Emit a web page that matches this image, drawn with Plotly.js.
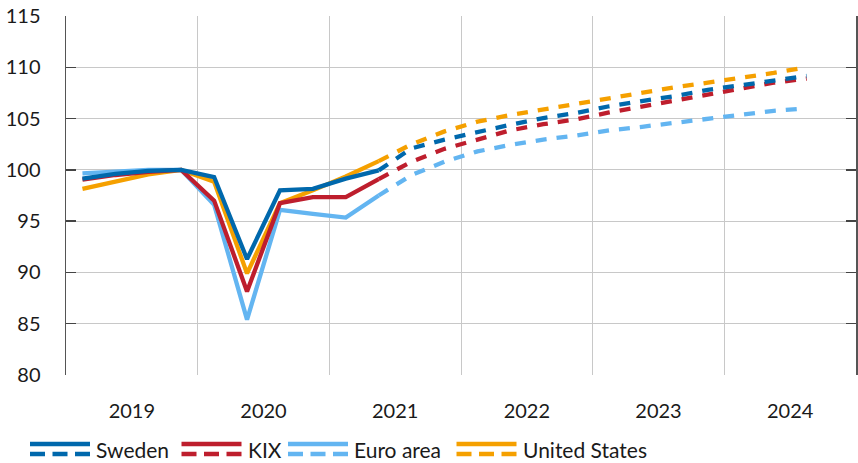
<!DOCTYPE html>
<html>
<head>
<meta charset="utf-8">
<script src="https://cdn.plot.ly/plotly-3.0.1.min.js"></script>
<style>html,body{margin:0;padding:0;background:#fff}#chart{width:858px;height:463px}</style>
</head>
<body>
<div id="chart"></div>
<script>
// Quarter labels
const outcomeQuarters = ['2019Q1','2019Q2','2019Q3','2019Q4','2020Q1','2020Q2','2020Q3','2020Q4','2021Q1','2021Q2'];
const forecastQuarters = ['2021Q2','2021Q3','2021Q4','2022Q1','2022Q2','2022Q3','2022Q4','2023Q1','2023Q2','2023Q3','2023Q4','2024Q1','2024Q2','2024Q3'];

// Series values (index, 2019Q4 = 100)
const swedenOutcome = [99.15, 99.6, 99.9, 100.0, 99.3, 91.3, 98.0, 98.15, 99.15, 99.95];
const swedenForecast = [99.95, 102.1, 102.95, 103.7, 104.4, 105.05, 105.55, 106.2, 106.65, 107.2, 107.8, 108.25, 108.65, 109.15];
const kixOutcome = [99.05, 99.5, 99.8, 100.0, 97.0, 88.15, 96.75, 97.35, 97.35, 99.1];
const kixForecast = [99.1, 100.8, 102.05, 102.9, 103.85, 104.45, 104.93, 105.6, 106.2, 106.75, 107.4, 107.9, 108.5, 108.9];
const euroOutcome = [99.65, 99.8, 100.0, 100.0, 96.6, 85.4, 96.1, 95.7, 95.35, 97.5];
const euroForecast = [97.5, 99.5, 100.8, 101.8, 102.43, 102.95, 103.35, 103.85, 104.2, 104.6, 105.0, 105.3, 105.75, 106.0];
const usOutcome = [98.15, 98.9, 99.55, 100.0, 98.85, 89.9, 96.75, 98.0, 99.35, 100.85];
const usForecast = [100.85, 102.5, 103.75, 104.7, 105.35, 105.9, 106.45, 107.0, 107.6, 108.05, 108.5, 108.95, 109.45, 110.0];

// Axis labels
const yearLabels = ['2019','2020','2021','2022','2023','2024'];
const yTicks = [80, 85, 90, 95, 100, 105, 110, 115];
const seriesNames = ['Sweden','KIX','Euro area','United States'];

const colors = {Sweden:'#0068AC', KIX:'#BE1E2D', 'Euro area':'#63B5F1', 'United States':'#F5A000'};

function qx(q){ const y = parseInt(q.slice(0,4)); const n = parseInt(q.slice(5)); return y + (n - 0.5)/4; }

const series = {
  'Sweden': [swedenOutcome, swedenForecast],
  'KIX': [kixOutcome, kixForecast],
  'Euro area': [euroOutcome, euroForecast],
  'United States': [usOutcome, usForecast]
};
const drawOrder = ['Euro area','United States','KIX','Sweden'];
const traces = [];
drawOrder.forEach(name => {
  traces.push({x: forecastQuarters.map(qx), y: series[name][1], type:'scatter', mode:'lines', name: name+' forecast',
    line:{color: colors[name], width:4.3, dash:'11px,10px'}, showlegend:false, hoverinfo:'skip'});
});
drawOrder.forEach(name => {
  traces.push({x: outcomeQuarters.map(qx), y: series[name][0], type:'scatter', mode:'lines', name: name,
    line:{color: colors[name], width:4.3}, showlegend:false, hoverinfo:'skip'});
});

const L = 66, R = 856, T = 16, B = 375;
const px = v => (v - L) / (R - L);
const py = v => (B - v) / (B - T);

const legendItems = [
  {name:'Sweden', x0:30},
  {name:'KIX', x0:181.5},
  {name:'Euro area', x0:288},
  {name:'United States', x0:456.5}
];
const shapes = [];
const annotations = [];
legendItems.forEach(it => {
  shapes.push({type:'line', xref:'paper', yref:'paper', x0:px(it.x0), x1:px(it.x0+60), y0:py(444), y1:py(444),
    line:{color:colors[it.name], width:4.5}});
  shapes.push({type:'line', xref:'paper', yref:'paper', x0:px(it.x0), x1:px(it.x0+60), y0:py(454), y1:py(454),
    line:{color:colors[it.name], width:4.5, dash:'15px,7.5px'}});
  annotations.push({xref:'paper', yref:'paper', x:px(it.x0+64), y:py(449), text:it.name, showarrow:false,
    xanchor:'left', yanchor:'middle', font:{family:'Lato, sans-serif', size:21, color:'#1a1a1a'}});
});

const layout = {
  width:858, height:463,
  margin:{l:L, r:858-R, t:T, b:463-B, pad:0},
  paper_bgcolor:'#fff', plot_bgcolor:'#fff',
  showlegend:false,
  font:{family:'Lato, sans-serif', size:20, color:'#1a1a1a'},
  xaxis:{
    range:[2019, 2025], type:'linear',
    tickvals: yearLabels.map(y => parseInt(y) + 0.5), ticktext: yearLabels,
    showgrid:false, zeroline:false, showline:false, ticks:'',
    ticklabelstandoff: 22,
    minor:{tickvals:[2020,2021,2022,2023,2024], showgrid:true, gridcolor:'#c8c8c8', gridwidth:1, ticks:''},
    tickfont:{family:'Lato, sans-serif', size:20, color:'#1a1a1a'}
  },
  yaxis:{
    range:[80, 115], tickvals:yTicks, ticktext:yTicks.map(String),
    showgrid:true, gridcolor:'#c8c8c8', gridwidth:1, zeroline:false,
    showline:true, linecolor:'#555', linewidth:1.5, mirror:'ticks',
    ticks:'inside', ticklen:10, tickwidth:1.5, tickcolor:'#444',
    ticklabelstandoff: 20,
    tickfont:{family:'Lato, sans-serif', size:20, color:'#1a1a1a'}
  },
  shapes: shapes,
  annotations: annotations
};

Plotly.newPlot('chart', traces, layout, {staticPlot:true, displayModeBar:false});
</script>
</body>
</html>
